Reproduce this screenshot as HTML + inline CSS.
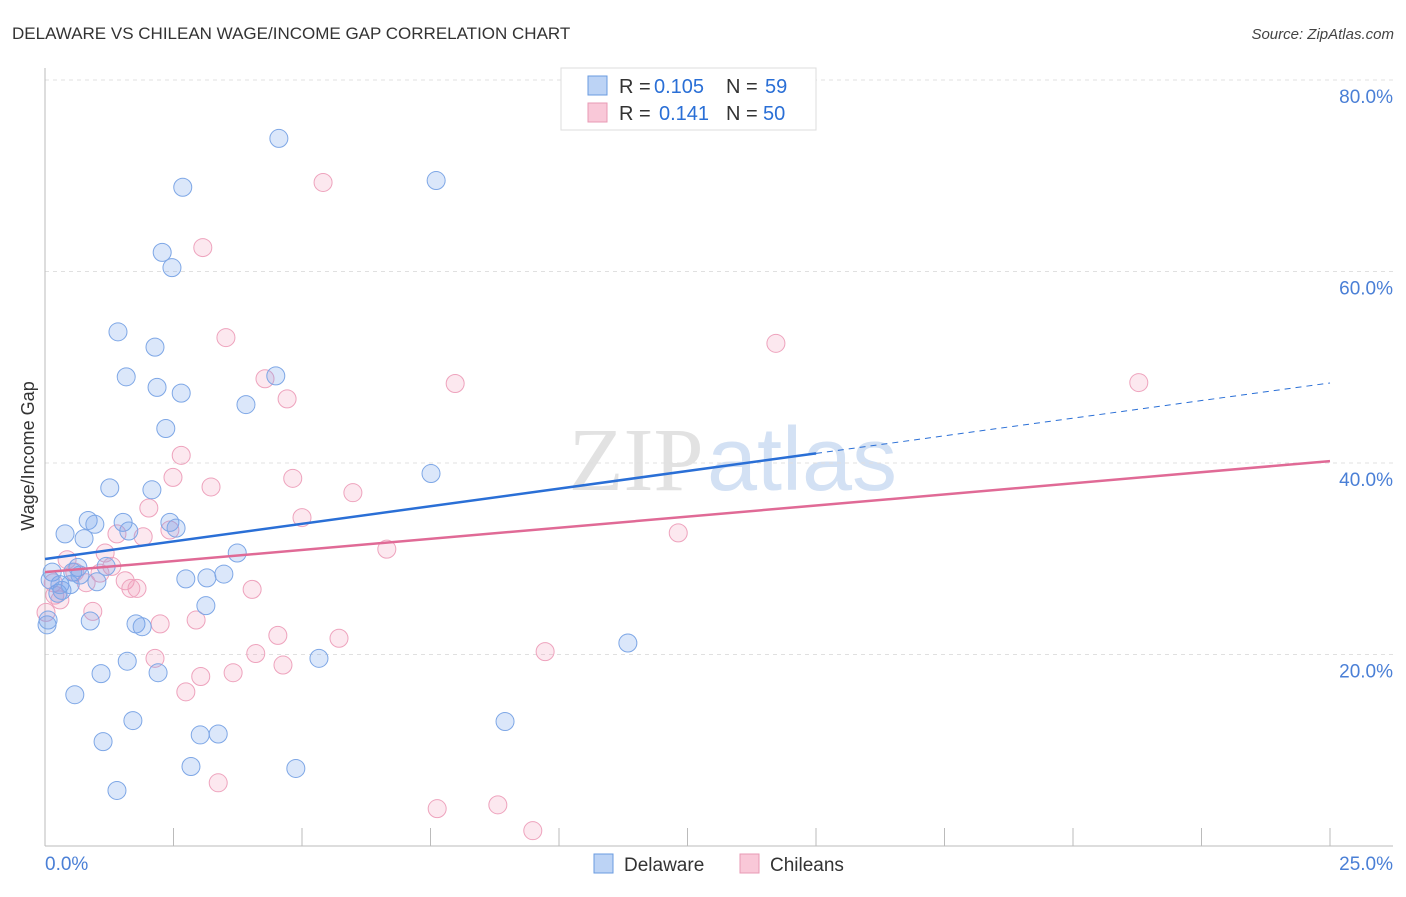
<!DOCTYPE html>
<html><head><meta charset="utf-8"><style>
body{margin:0;background:#fff;font-family:"Liberation Sans",sans-serif}
</style></head><body>
<svg id="chart" width="1406" height="892" xmlns="http://www.w3.org/2000/svg" font-family="Liberation Sans, sans-serif">
<text x="12" y="39" font-size="17" fill="#333">DELAWARE VS CHILEAN WAGE/INCOME GAP CORRELATION CHART</text>
<text x="1394" y="39" font-size="15" fill="#444" font-style="italic" text-anchor="end">Source: ZipAtlas.com</text>
<g font-size="90" text-anchor="middle">
<text x="636" y="490" fill="#e2e2e2" font-family="Liberation Serif, serif">ZIP</text>
<text x="802" y="490" fill="#d3e1f4">atlas</text></g>
<g id="grid"></g><g id="axes"></g>
<text transform="translate(34,456) rotate(-90)" font-size="18" fill="#333" text-anchor="middle">Wage/Income Gap</text>
<g id="marks"></g><g id="lines"></g>
<g font-size="20">
<rect x="561" y="68" width="255" height="62" fill="#fff" stroke="#ddd"/>
<rect x="588" y="76" width="19" height="19" fill="#bcd3f5" stroke="#6a9be0"/>
<rect x="588" y="103" width="19" height="19" fill="#f9c8d8" stroke="#e89ab4"/>
<text x="619" y="93" fill="#333">R =</text><text x="654" y="93" fill="#2a6fd6">0.105</text>
<text x="726" y="93" fill="#333">N =</text><text x="765" y="93" fill="#2a6fd6">59</text>
<text x="619" y="120" fill="#333">R =</text><text x="659" y="120" fill="#2a6fd6">0.141</text>
<text x="726" y="120" fill="#333">N =</text><text x="763" y="120" fill="#2a6fd6">50</text>
</g>
<g font-size="19" fill="#333">
<rect x="594" y="854" width="19" height="19" fill="#bcd3f5" stroke="#6a9be0"/>
<text x="624" y="871">Delaware</text>
<rect x="740" y="854" width="19" height="19" fill="#f9c8d8" stroke="#e89ab4"/>
<text x="770" y="871">Chileans</text>
</g>
</svg>
<script>
const blueX=[4.55,2.68,7.61,2.28,2.47,1.42,2.14,1.58,2.18,2.65,4.49,3.91,2.35,7.51,1.26,2.08,0.39,0.84,0.97,1.52,1.63,2.43,2.55,0.76,3.74,0.14,0.64,0.54,1.19,0.33,0.25,1.01,0.29,2.74,3.15,3.48,3.13,0.88,1.77,1.89,0.04,11.34,5.33,1.60,1.09,2.20,0.58,1.71,8.95,3.02,3.37,1.13,2.84,4.88,1.40,0.10,0.06,0.49,0.68];
const blueY=[73.9,68.8,69.5,62.0,60.4,53.7,52.1,49.0,47.9,47.3,49.1,46.1,43.6,38.9,37.4,37.2,32.6,34.0,33.6,33.8,32.9,33.8,33.2,32.1,30.6,28.6,29.1,28.6,29.2,26.7,26.4,27.6,27.3,27.9,28.0,28.4,25.1,23.5,23.2,22.9,23.1,21.2,19.6,19.3,18.0,18.1,15.8,13.1,13.0,11.6,11.7,10.9,8.3,8.1,5.8,27.8,23.6,27.3,28.3];
const pinkX=[5.41,3.07,3.52,14.22,21.28,7.98,4.28,4.71,2.65,2.49,3.23,4.82,5.99,2.02,5.00,1.40,1.91,2.43,12.32,6.65,1.17,0.43,1.30,1.07,0.80,1.56,1.79,1.67,4.03,0.16,0.19,0.93,0.02,2.24,2.94,4.53,5.72,9.73,4.10,2.14,4.63,3.66,3.03,2.74,3.37,7.63,8.81,9.49,0.29,0.58];
const pinkY=[69.3,62.5,53.1,52.5,48.4,48.3,48.8,46.7,40.8,38.5,37.5,38.4,36.9,35.3,34.3,32.6,32.3,33.0,32.7,31.0,30.6,29.9,29.2,28.5,27.5,27.7,26.9,26.9,26.8,27.5,26.2,24.5,24.4,23.2,23.6,22.0,21.7,20.3,20.1,19.6,18.9,18.1,17.7,16.1,6.6,3.9,4.3,1.6,25.7,28.6];
const yTicks=[20,40,60,80];
const yTickLabels=["20.0%","40.0%","60.0%","80.0%"];
const xTicks=[0,2.5,5,7.5,10,12.5,15,17.5,20,22.5,25];
const blueTrend=[29.97,48.36];
const blueSolidEnd=15;
const pinkTrend=[28.6,40.2];
const NS="http://www.w3.org/2000/svg";
const sx=v=>45+v/25*1285, sy=v=>846-v*9.575;
function mk(t,a,p){const e=document.createElementNS(NS,t);for(const k in a)e.setAttribute(k,a[k]);p.appendChild(e);return e;}
const grid=document.getElementById('grid'),axes=document.getElementById('axes'),marks=document.getElementById('marks'),lines=document.getElementById('lines');
yTicks.forEach((t,i)=>{
 const l=mk('line',{x1:45,x2:1393,y1:sy(t),y2:sy(t),stroke:'#e0e0e0','stroke-dasharray':'4,4'},grid);
 
 
 const tx=mk('text',{x:1393,y:sy(t)+23,'font-size':19,fill:'#4a7fd6','text-anchor':'end'},axes);
 tx.textContent=yTickLabels[i];
 
 
});
mk('line',{x1:45,x2:1393,y1:846,y2:846,stroke:'#bbb'},axes);
mk('line',{x1:45,x2:45,y1:68,y2:846,stroke:'#bbb'},axes);
xTicks.forEach(t=>{const l=mk('line',{x1:sx(t),x2:sx(t),y1:846,y2:828,stroke:'#bbb'},axes);
 
 });
const x0=mk('text',{x:45,y:870,'font-size':19,fill:'#4a7fd6'},axes);x0.textContent='0.0%';


const x1=mk('text',{x:1393,y:870,'font-size':19,fill:'#4a7fd6','text-anchor':'end'},axes);x1.textContent='25.0%';


function pts(X,Y,fill,stroke,name){X.forEach((x,i)=>{const c=mk('circle',{cx:sx(x),cy:sy(Y[i]),r:9,fill:fill,stroke:stroke,'stroke-width':1},marks);
 
 });}
pts(pinkX,pinkY,'rgba(240,150,180,0.22)','#eea3bd','chileans-point');
pts(blueX,blueY,'rgba(110,160,235,0.25)','#7ea7e6','delaware-point');
const bAt=v=>blueTrend[0]+(blueTrend[1]-blueTrend[0])*v/25;
const b1=mk('line',{x1:sx(0),y1:sy(bAt(0)),x2:sx(blueSolidEnd),y2:sy(bAt(blueSolidEnd)),stroke:'#2a6fd6','stroke-width':2.5},lines);


const b2=mk('line',{x1:sx(blueSolidEnd),y1:sy(bAt(blueSolidEnd)),x2:sx(25),y2:sy(bAt(25)),stroke:'#2a6fd6','stroke-width':1,'stroke-dasharray':'6,5'},lines);


const p1=mk('line',{x1:sx(0),y1:sy(pinkTrend[0]),x2:sx(25),y2:sy(pinkTrend[1]),stroke:'#e06a96','stroke-width':2.5},lines);


</script>
</body></html>
